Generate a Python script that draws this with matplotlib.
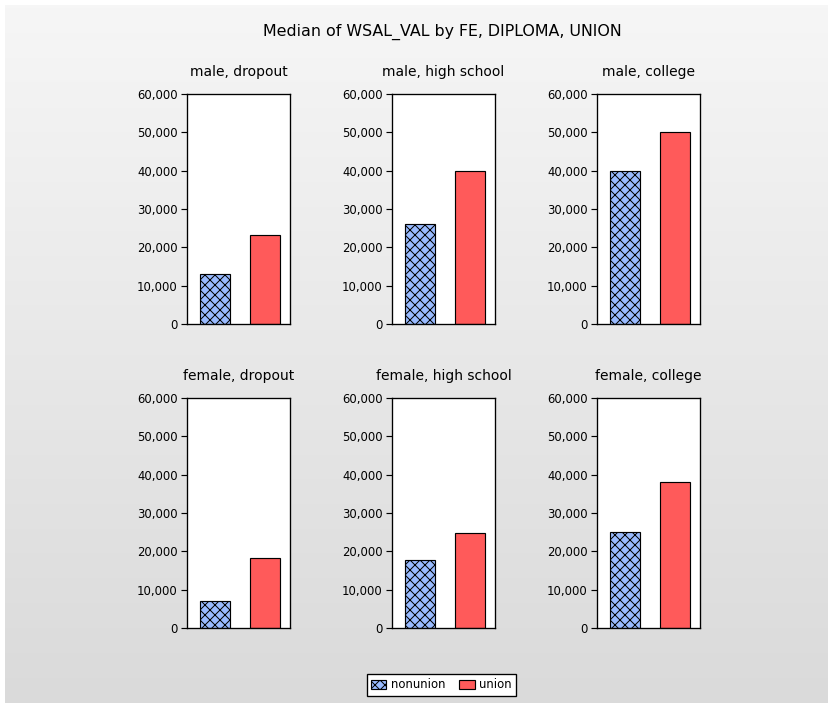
import numpy as np
import matplotlib.pyplot as plt
from matplotlib.ticker import FuncFormatter

genders = ['male', 'female']
diplomas = ['dropout', 'high school', 'college']
groups = ['nonunion', 'union']

# median WSAL_VAL, rows = gender, columns = diploma
nonunion = np.array([[13000, 26000, 40000],
                     [7000, 17800, 25100]])
union = np.array([[23100, 40000, 50000],
                  [18200, 24800, 38100]])

yticks = [0, 10000, 20000, 30000, 40000, 50000, 60000]

W, H, DPI = 833, 708, 120
plt.rcParams['hatch.linewidth'] = 0.6
fig = plt.figure(figsize=(W / DPI, H / DPI), dpi=DPI, facecolor='white')

# grey gradient background with a thin white border
bg = fig.add_axes([5 / W, 5 / H, 1 - 10 / W, 1 - 10 / H], zorder=-5)
grad = np.linspace(0.965, 0.855, 256)[:, None]
bg.imshow(np.dstack([grad, grad, grad]), aspect='auto', extent=(0, 1, 0, 1))
bg.set_axis_off()

fig.text(442 / W, 1 - 32 / H, 'Median of WSAL_VAL by FE, DIPLOMA, UNION',
         ha='center', va='center', fontsize=9.5)

lefts = [187, 392, 597]
tops = [94, 398]
fmt = FuncFormatter(lambda v, p: '{:,.0f}'.format(v))

handles = None
for i, g in enumerate(genders):
    for j, d in enumerate(diplomas):
        ax = fig.add_axes([lefts[j] / W, 1 - (tops[i] + 230) / H, 103 / W, 230 / H])
        b1 = ax.bar(0, nonunion[i, j], width=0.6, color='#99bbff',
                    edgecolor='black', linewidth=0.7, hatch='xxxx')
        b2 = ax.bar(1, union[i, j], width=0.6, color='#ff5a5a',
                    edgecolor='black', linewidth=0.7)
        handles = [b1, b2]
        ax.set_xlim(-0.56, 1.5)
        ax.set_ylim(0, 60000)
        ax.set_yticks(yticks)
        ax.yaxis.set_major_formatter(fmt)
        ax.set_xticks([])
        ax.tick_params(axis='y', labelsize=7, length=3.6, width=0.7, pad=2)
        for s in ax.spines.values():
            s.set_linewidth(0.8)
        ax.set_title(g + ', ' + d, fontsize=8.3, pad=11)

leg = fig.legend(handles, groups, loc='center', ncol=2,
                 bbox_to_anchor=(441.5 / W, 1 - 685 / H), fontsize=7,
                 fancybox=False, edgecolor='black', framealpha=1,
                 handlelength=1.3, handleheight=0.8, handletextpad=0.4,
                 columnspacing=1.2, borderpad=0.35)
leg.get_frame().set_linewidth(0.8)

fig.savefig('out.png', dpi=DPI)
